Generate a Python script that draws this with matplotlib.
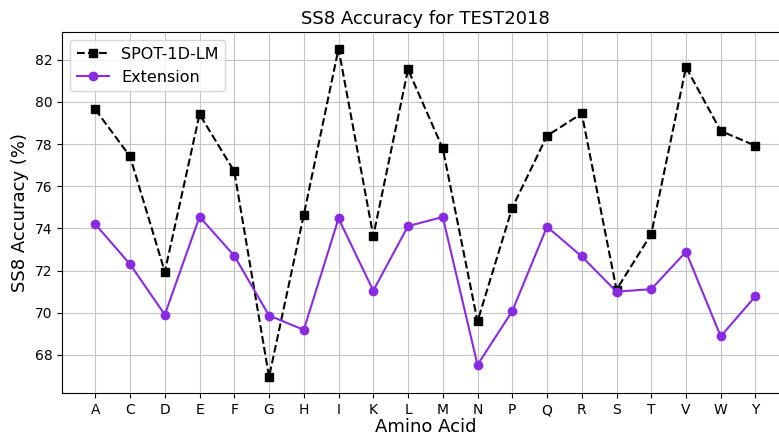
import matplotlib
matplotlib.use("Agg")
import matplotlib.pyplot as plt

amino_acids = ['A', 'C', 'D', 'E', 'F', 'G', 'H', 'I', 'K', 'L',
               'M', 'N', 'P', 'Q', 'R', 'S', 'T', 'V', 'W', 'Y']

spot_1d_lm = [79.64, 77.41, 71.94, 79.41, 76.70, 66.96, 74.64, 82.52, 73.64, 81.54,
              77.79, 69.59, 74.98, 78.39, 79.45, 71.10, 73.73, 81.64, 78.62, 77.92]

extension = [74.20, 72.30, 69.91, 74.55, 72.70, 69.87, 69.19, 74.47, 71.05, 74.11,
             74.54, 67.53, 70.08, 74.08, 72.67, 71.00, 71.12, 72.89, 68.88, 70.79]

fig = plt.figure(figsize=(7.79, 4.37), dpi=100)
ax = fig.add_axes([62.3 / 779, 43.7 / 437, 726.2 / 779, 361.0 / 437])

ax.plot(amino_acids, spot_1d_lm, 'k--s', label='SPOT-1D-LM')
ax.plot(amino_acids, extension, '-o', color='blueviolet', label='Extension')

ax.set_title('SS8 Accuracy for TEST2018', fontsize=13)
ax.set_xlabel('Amino Acid', fontsize=13, labelpad=1)
ax.set_ylabel('SS8 Accuracy (%)', fontsize=13)
ax.legend(fontsize=11.5, loc='upper left')
ax.grid(True, color='#c4c4c4')

fig.savefig('out.png', dpi=100)
